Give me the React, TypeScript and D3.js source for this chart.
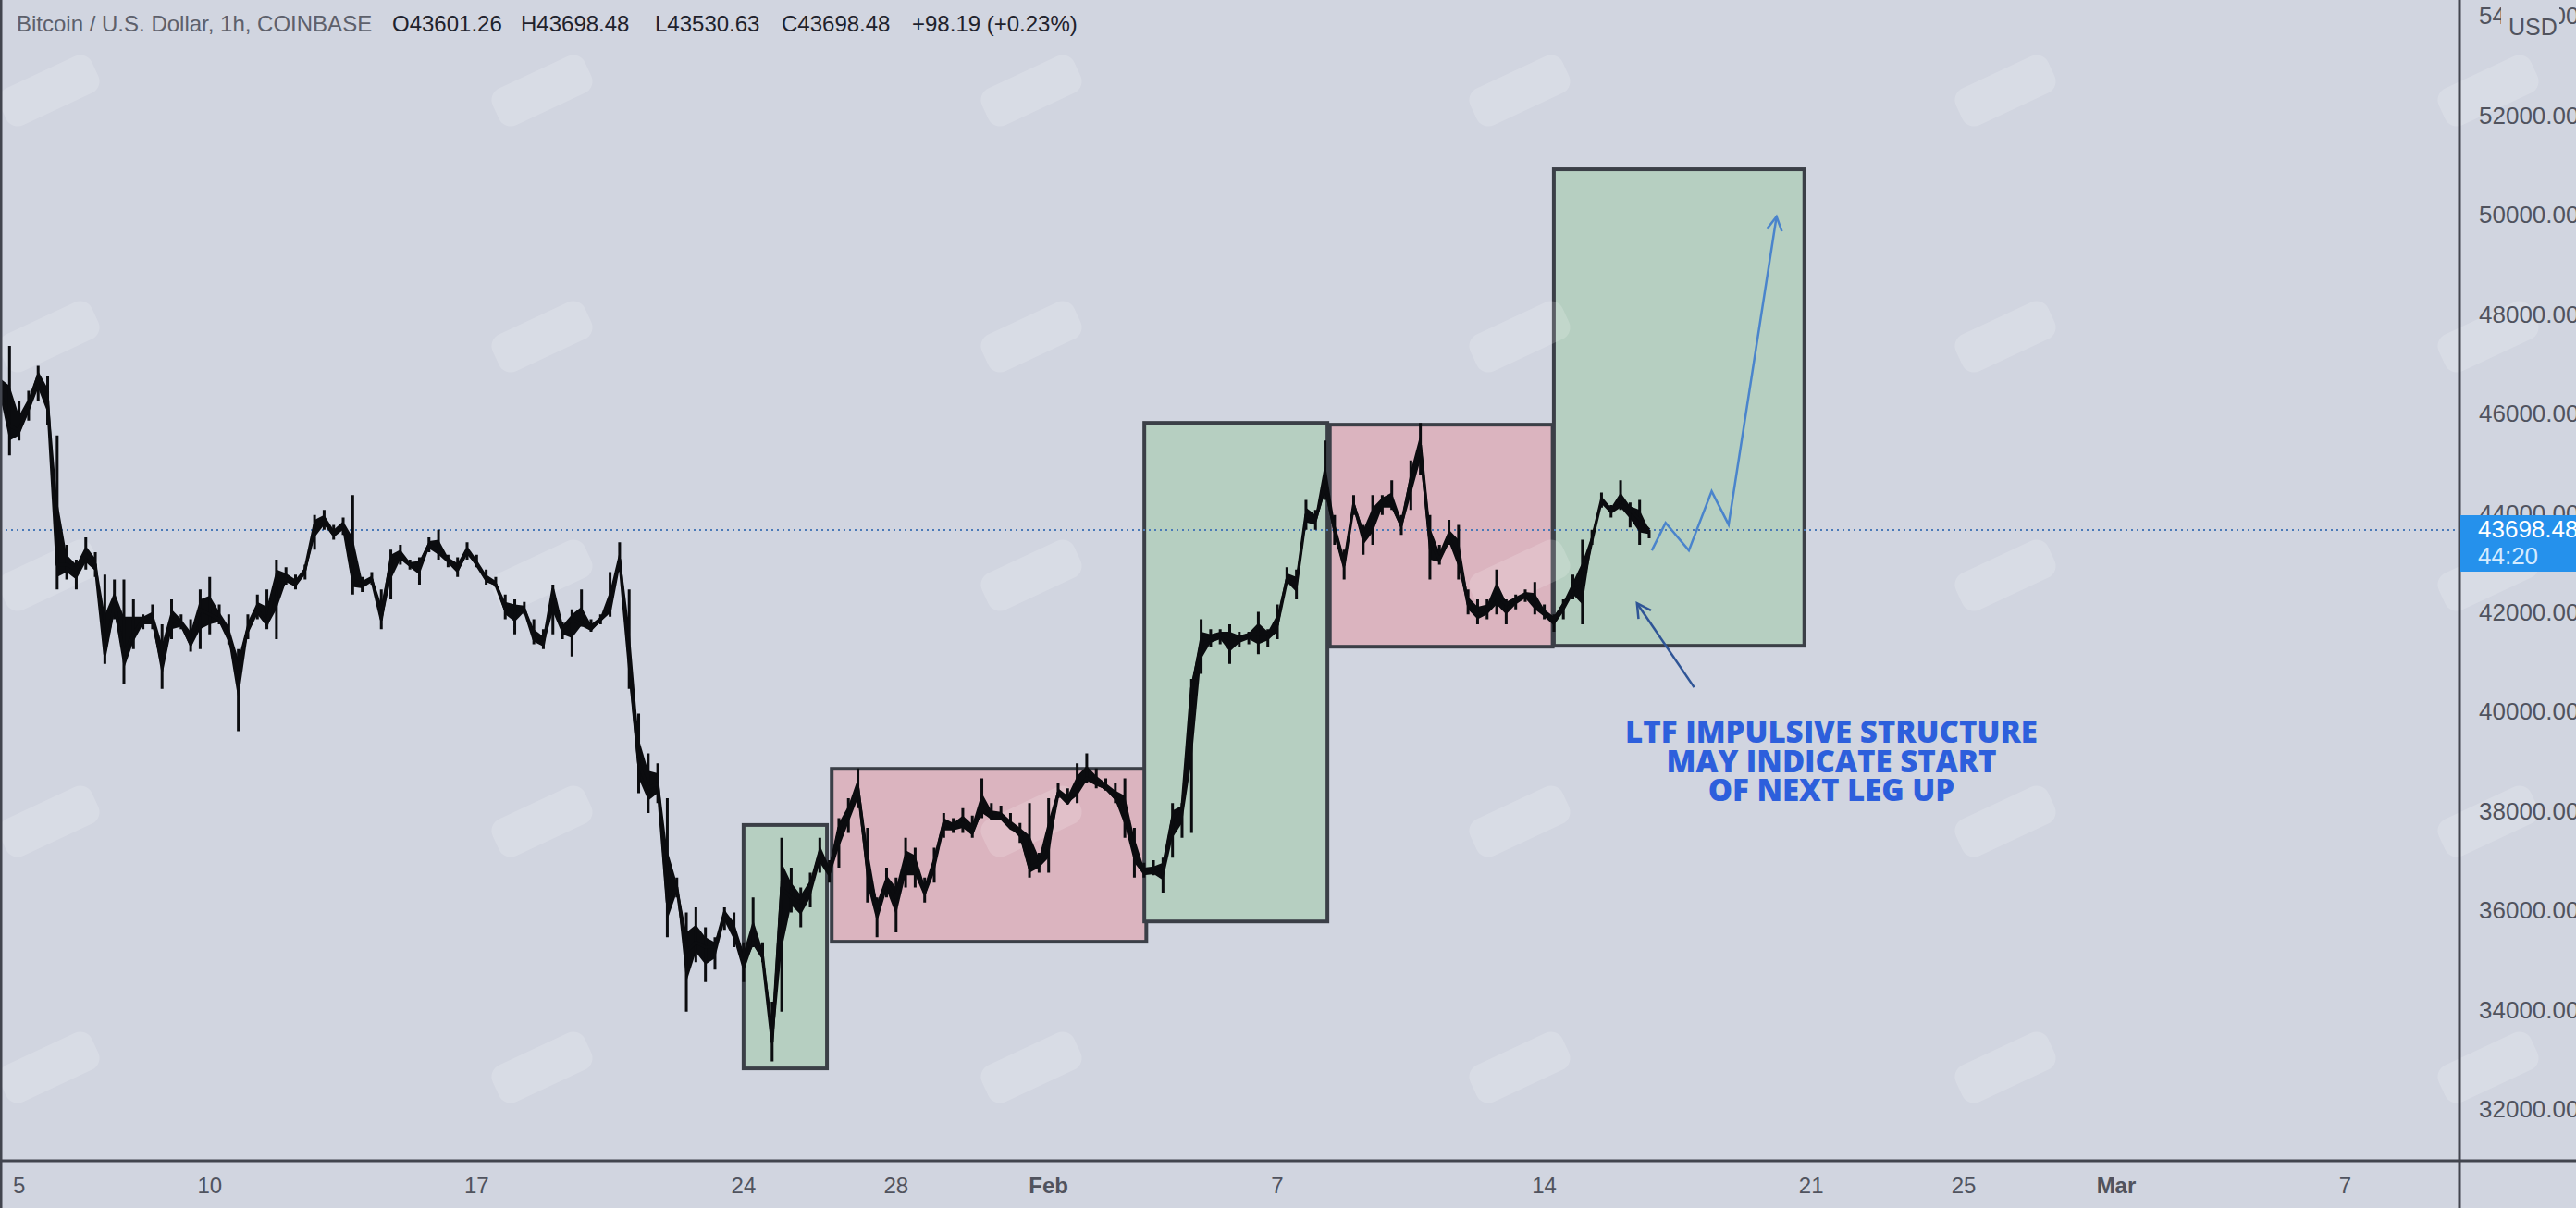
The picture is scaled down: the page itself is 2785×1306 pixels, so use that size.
import { useMemo } from "react";
import * as d3 from "d3";

const WIDTH = 2785;
const HEIGHT = 1306;
const PLOT_W = 2659;
const PLOT_H = 1255;

const BG = "#d1d5e0";
const AXIS_TEXT = "#50535e";
const BORDER = "#42454e";

// 6h samples of BTC/USD, starting 2022-01-04 12:00 UTC
const SERIES_START = Date.UTC(2022, 0, 4, 12);
const STEP_MS = 6 * 3600 * 1000;

const closes = [
  46500, 45800, 45700, 46200, 46800, 46300, 43000, 43000, 42900, 43200,
  43000, 41200, 42200, 41200, 41600, 41900, 41900, 41000, 41900, 41800,
  41400, 42100, 42000, 41900, 41500, 40900, 41700, 42100, 41800, 42700,
  42700, 42600, 42900, 43800, 43900, 43600, 43800, 42700, 42600, 42700,
  41900, 43100, 43200, 43000, 43000, 43400, 43300, 43100, 42900, 43300,
  43000, 42700, 42600, 42100, 42100, 42100, 41500, 41400, 42500, 41700,
  41900, 41800, 41700, 41900, 42100, 43100, 41000, 39000, 38500, 38600,
  36200, 36500, 35200, 35400, 35300, 35300, 36000, 35600, 35000, 35400,
  35100, 33400, 36500, 36300, 36200, 36500, 37200, 36800, 37700, 38000,
  38500, 36900, 36100, 36600, 36300, 37000, 37000, 36400, 37000, 37800,
  37700, 37800, 37600, 38100, 37900, 37900, 37700, 37600, 36900, 37000,
  37400, 38400, 38200, 38500, 38700, 38600, 38500, 38300, 38000, 37300,
  36800, 36800, 36900, 37900, 38100, 40500, 41400, 41500, 41600, 41500,
  41500, 41600, 41600, 41600, 41800, 42700, 42600, 44000, 43900, 44600,
  43700, 43000, 44200, 43600, 43900, 44300, 44200, 43800, 44700, 45400,
  43500, 43100, 43500, 43200, 42200, 42000, 42100, 42400, 42200, 42300,
  42400, 42200, 42000, 41900, 42200, 42500, 42600, 43500, 44300, 44100,
  44200, 44100, 43900, 43698.48,
];

const highs = [
  47000, 47400, 46300, 46500, 47000, 46800, 45600, 43400, 43100, 43550,
  43250, 42800, 42700, 42700, 42300, 42000, 42200, 41800, 42300, 42000,
  41900, 42500, 42750, 42200, 42000, 41300, 42000, 42400, 42500, 43100,
  42950, 42800, 43000, 44000, 44100, 43800, 43950, 44400, 42750, 42850,
  42500, 43300, 43400, 43100, 43150, 43550, 43700, 43200, 43150, 43450,
  43200, 42900, 42750, 42400, 42300, 42250, 41900, 41700, 42600, 41850,
  42100, 42500, 41900, 42000, 42850, 43450, 42500, 40000, 39200, 39000,
  38300, 36700, 36000, 36100, 35700, 35500, 36100, 36000, 35400, 36300,
  35400, 34200, 37500, 36900, 36500, 36800, 37500, 37050, 37900, 38300,
  38900, 37700, 36300, 36900, 36700, 37500, 37300, 36700, 37300, 38000,
  37900, 38100, 37950, 38700, 38200, 38150, 38000, 37800, 38200, 37200,
  38300, 38600, 38500, 39000, 39200, 38900, 38700, 38600, 38700, 37700,
  37000, 37050, 37100, 38200, 38200, 40700, 41900, 41700, 41700, 41800,
  41650, 41650, 42050, 41700, 42200, 42950, 42900, 44300, 44100, 45500,
  44000, 43300, 44400, 43800, 44400, 44400, 44700, 44000, 45100, 45850,
  44000, 43400, 43900, 43800, 42500, 42300, 42300, 42900, 42300, 42400,
  42500, 42650, 42200, 42000, 42300, 42800, 43500, 43700, 44450, 44200,
  44700, 44250, 44300, 43698.48,
];

const lows = [
  46300, 45200, 45500, 45900, 46300, 45800, 42500, 42700, 42500, 42900,
  42750, 41000, 41900, 40600, 41300, 41700, 41700, 40500, 41500, 41700,
  41250, 41300, 41600, 41800, 41400, 39650, 41500, 41900, 41700, 41500,
  42600, 42500, 42700, 43300, 43700, 43500, 43600, 42400, 42450, 42600,
  41700, 42300, 43000, 42900, 42600, 43250, 43100, 42950, 42750, 43100,
  42950, 42600, 42550, 41900, 41600, 42000, 41400, 41300, 41600, 41500,
  41150, 41750, 41650, 41800, 41950, 42900, 40500, 38400, 38000, 38200,
  35500, 36300, 34000, 35000, 34600, 34850, 35650, 35300, 34600, 35300,
  35000, 33000, 34000, 36000, 35700, 36100, 36800, 36600, 36900, 37600,
  38100, 36200, 35500, 36300, 35600, 36500, 36500, 36200, 36600, 37500,
  37600, 37600, 37500, 37900, 37850, 37850, 37700, 37400, 36700, 36800,
  36800, 38300, 38200, 38200, 38600, 38500, 38450, 38200, 37500, 36700,
  36700, 36750, 36400, 37100, 37500, 37600, 40800, 41350, 41400, 41000,
  41350, 41400, 41200, 41350, 41500, 42600, 42300, 43700, 43700, 44300,
  43400, 42700, 44000, 43200, 43400, 44000, 44100, 43600, 44100, 44800,
  42700, 43000, 43400, 42700, 42000, 41800, 41900, 42000, 41800, 42100,
  42250, 42000, 41900, 41650, 41900, 42300, 41800, 43400, 44150, 43950,
  44100, 43750, 43400, 43530.63,
];

const LAST_PRICE = 43698.48;

// drawn range boxes: [from, to, low, high, kind]
const zones: [string, string, number, number, "up" | "range"][] = [
  ["2022-01-24T00:00", "2022-01-26T04:30", 32860, 37760, "up"],
  ["2022-01-26T07:30", "2022-02-03T13:30", 35410, 38890, "range"],
  ["2022-02-03T12:15", "2022-02-08T07:30", 35818, 45854, "up"],
  ["2022-02-08T09:00", "2022-02-14T05:15", 41348, 45817, "range"],
  ["2022-02-14T06:00", "2022-02-20T19:40", 41367, 50957, "up"],
];

// hand drawn projection
const projection: [string, number][] = [
  ["2022-02-16T19:40", 43285],
  ["2022-02-17T04:20", 43843],
  ["2022-02-17T19:00", 43285],
  ["2022-02-18T09:20", 44476],
  ["2022-02-18T20:00", 43806],
  ["2022-02-20T02:10", 50007],
];

const pointer: [string, number][] = [
  ["2022-02-17T22:20", 40529],
  ["2022-02-16T10:20", 42223],
];

const noteLines = ["LTF IMPULSIVE STRUCTURE", "MAY INDICATE START", "OF NEXT LEG UP"];

const xTicks = [
  "2022-01-05", "2022-01-10", "2022-01-17", "2022-01-24", "2022-01-28", "2022-02-01",
  "2022-02-07", "2022-02-14", "2022-02-21", "2022-02-25", "2022-03-01", "2022-03-07",
];
const yTicks = d3.range(32000, 54001, 2000);

const header: [string, number, string][] = [
  ["Bitcoin / U.S. Dollar, 1h, COINBASE", 18, "#5d606b"],
  ["O43601.26", 424, "#1e222d"],
  ["H43698.48", 563, "#1e222d"],
  ["L43530.63", 708, "#1e222d"],
  ["C43698.48", 845, "#1e222d"],
  ["+98.19 (+0.23%)", 986, "#1e222d"],
];

const parseT = d3.utcParse("%Y-%m-%dT%H:%M");
const parseD = d3.utcParse("%Y-%m-%d");

const arrowHead = (p: [number, number], q: [number, number], len = 17) => {
  const a = Math.atan2(p[1] - q[1], p[0] - q[0]);
  const w1 = [q[0] + len * Math.cos(a + 0.5), q[1] + len * Math.sin(a + 0.5)];
  const w2 = [q[0] + len * Math.cos(a - 0.5), q[1] + len * Math.sin(a - 0.5)];
  return `M${w1[0]},${w1[1]}L${q[0]},${q[1]}L${w2[0]},${w2[1]}`;
};

export default function App() {
  const xScale = useMemo(
    () =>
      d3
        .scaleUtc()
        .domain([new Date(SERIES_START), new Date(Date.UTC(2022, 2, 10))])
        .range([0, PLOT_W]),
    []
  );
  const yScale = useMemo(() => d3.scaleLinear().domain([31000, 54365]).range([PLOT_H, 0]), []);

  const times = closes.map((_, i) => new Date(SERIES_START + i * STEP_MS));

  const closeLine = d3
    .line<number>()
    .x((_, i) => xScale(times[i]))
    .y((d) => yScale(d))(closes);

  // thin high/low band behind the line
  const band = d3
    .area<number>()
    .x((_, i) => xScale(times[i]))
    .y0((_, i) => yScale((lows[i] + closes[i]) / 2))
    .y1((_, i) => yScale((highs[i] + closes[i]) / 2))(closes);

  // high-low wicks of every 6h sample
  const wicks = closes
    .map((_, i) => {
      const x = xScale(times[i]);
      return `M${x},${yScale(highs[i])}V${yScale(lows[i])}`;
    })
    .join("");

  const projPts = projection.map(([t, v]) => [xScale(parseT(t)!), yScale(v)] as [number, number]);
  const projPath = d3.line()(projPts);
  const ptrPts = pointer.map(([t, v]) => [xScale(parseT(t)!), yScale(v)] as [number, number]);

  const watermarks: [number, number][] = [];
  [53, 586, 1115, 1643, 2168, 2690].forEach((cx) =>
    [98, 364, 622, 888, 1154].forEach((cy) => watermarks.push([cx, cy]))
  );

  const fmtTick = (d: Date) => (d.getUTCDate() === 1 ? d3.utcFormat("%b")(d) : String(d.getUTCDate()));

  return (
    <div style={{ position: "absolute", left: 0, top: 0 }}>
      <svg width={WIDTH} height={HEIGHT} style={{ display: "block", background: BG }}>
        <rect width={WIDTH} height={HEIGHT} fill={BG} />

        {/* zones */}
        {zones.map(([a, b, lo, hi, kind], i) => {
          const x0 = xScale(parseT(a)!);
          const x1 = xScale(parseT(b)!);
          return (
            <rect
              key={i}
              x={x0}
              y={yScale(hi)}
              width={x1 - x0}
              height={yScale(lo) - yScale(hi)}
              fill={kind === "up" ? "#b6cfc1" : "#dbb4bf"}
              stroke="#3b3f47"
              strokeWidth={4}
            />
          );
        })}

        {/* watermark logos */}
        {watermarks.map(([cx, cy], i) => (
          <rect
            key={i}
            x={cx - 55}
            y={cy - 22}
            width={110}
            height={44}
            rx={14}
            fill="#ffffff"
            opacity={0.17}
            transform={`rotate(-25 ${cx} ${cy})`}
          />
        ))}

        {/* last price line */}
        <line
          x1={0}
          x2={PLOT_W}
          y1={yScale(LAST_PRICE)}
          y2={yScale(LAST_PRICE)}
          stroke="#4a7ab8"
          strokeWidth={2}
          strokeDasharray="2,4"
        />

        {/* price */}
        <path d={band ?? ""} fill="#0b0c0f" />
        <path d={wicks} fill="none" stroke="#0b0c0f" strokeWidth={3} />
        <path d={closeLine ?? ""} fill="none" stroke="#0b0c0f" strokeWidth={3.4} strokeLinejoin="round" />

        {/* projection */}
        <path d={projPath ?? ""} fill="none" stroke="#4a84cc" strokeWidth={2.5} strokeLinejoin="miter" />
        <path
          d={arrowHead(projPts[projPts.length - 2], projPts[projPts.length - 1])}
          fill="none"
          stroke="#4a84cc"
          strokeWidth={2.5}
        />
        <path d={d3.line()(ptrPts) ?? ""} fill="none" stroke="#2f5596" strokeWidth={2.5} />
        <path d={arrowHead(ptrPts[0], ptrPts[1])} fill="none" stroke="#2f5596" strokeWidth={2.5} />

        {noteLines.map((t, i) => (
          <text
            key={i}
            x={1980}
            y={803 + i * 31.5}
            textAnchor="middle"
            fontFamily="'Open Sans', sans-serif"
            fontWeight={800}
            fontSize={33}
            fill="#2d5fdc"
          >
            {t}
          </text>
        ))}

        {/* header */}
        {header.map(([t, x, c], i) => (
          <text
            key={i}
            x={x}
            y={28}
            dominantBaseline="middle"
            fontFamily="'Liberation Sans', Arial, sans-serif"
            fontSize={24}
            fill={c}
          >
            {t}
          </text>
        ))}

        {/* axes frame */}
        <line x1={1} x2={1} y1={0} y2={HEIGHT} stroke={BORDER} strokeWidth={3} />
        <line x1={0} x2={WIDTH} y1={PLOT_H} y2={PLOT_H} stroke={BORDER} strokeWidth={3} />
        <line x1={PLOT_W} x2={PLOT_W} y1={0} y2={HEIGHT} stroke={BORDER} strokeWidth={3} />

        {/* y axis */}
        {yTicks.map((v) => (
          <text
            key={v}
            x={2680}
            y={yScale(v)}
            dominantBaseline="middle"
            fontFamily="'Liberation Sans', Arial, sans-serif"
            fontSize={26}
            fill={AXIS_TEXT}
          >
            {v.toFixed(2)}
          </text>
        ))}
        <rect x={2704} y={0} width={63} height={46} fill={BG} />
        <text
          x={2712}
          y={31}
          dominantBaseline="middle"
          fontFamily="'Liberation Sans', Arial, sans-serif"
          fontSize={25}
          fill={AXIS_TEXT}
        >
          USD
        </text>

        <rect x={PLOT_W + 1} y={557} width={WIDTH - PLOT_W} height={61} fill="#2591ec" />
        <text
          x={2679}
          y={574}
          dominantBaseline="middle"
          fontFamily="'Liberation Sans', Arial, sans-serif"
          fontSize={26}
          fill="#ffffff"
        >
          {LAST_PRICE.toFixed(2)}
        </text>
        <text
          x={2679}
          y={603}
          dominantBaseline="middle"
          fontFamily="'Liberation Sans', Arial, sans-serif"
          fontSize={26}
          fill="#d4ebff"
        >
          44:20
        </text>

        {/* x axis */}
        {xTicks.map((s) => {
          const d = parseD(s)!;
          const first = d.getUTCDate() === 1;
          return (
            <text
              key={s}
              x={xScale(d)}
              y={1284}
              textAnchor="middle"
              dominantBaseline="middle"
              fontFamily="'Liberation Sans', Arial, sans-serif"
              fontSize={24}
              fontWeight={first ? 700 : 400}
              fill={AXIS_TEXT}
            >
              {fmtTick(d)}
            </text>
          );
        })}
      </svg>
    </div>
  );
}
